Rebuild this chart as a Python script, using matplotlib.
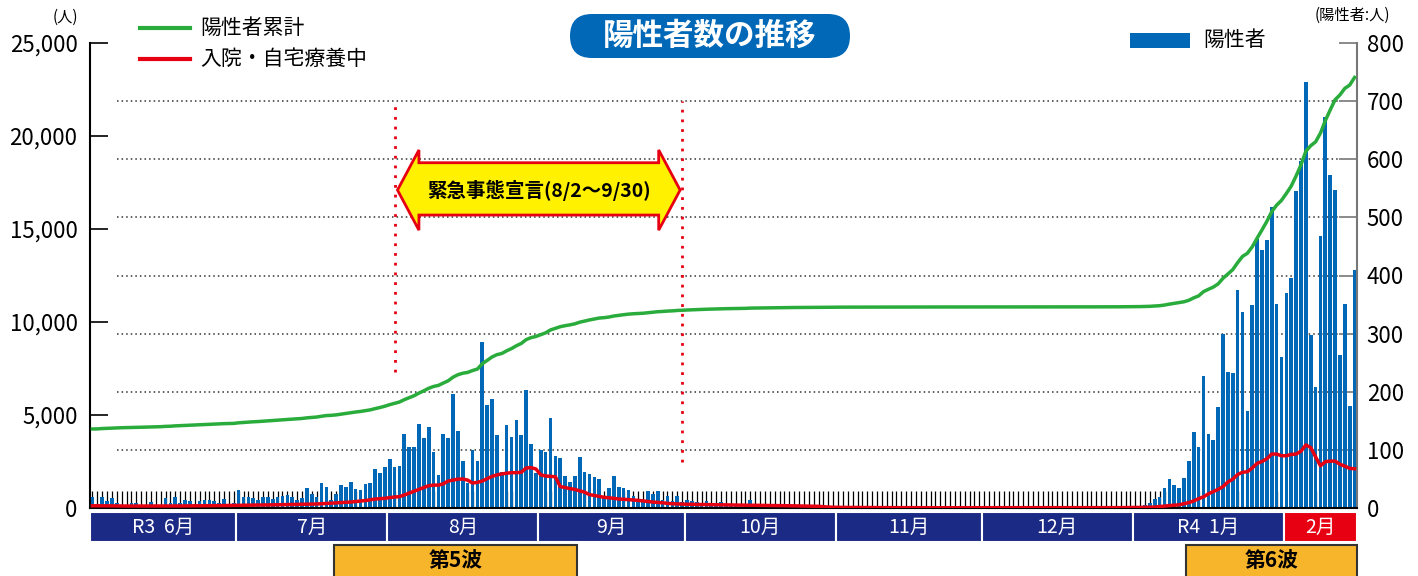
import matplotlib
matplotlib.use("Agg")
import matplotlib.pyplot as plt
import matplotlib.patches as mpatches
from matplotlib.lines import Line2D
import numpy as np

plt.rcParams['font.family'] = ['Noto Sans CJK JP', 'DejaVu Sans']

# daily new positives (right axis), Jun 1 2021 - Feb 15 2022
pos_jun = [19, 4, 19, 12, 17, 9, 6, 6, 9, 8, 6, 4, 10, 6, 6, 17, 9, 19, 9, 14,
           12, 7, 12, 14, 14, 12, 9, 16, 6, 8]
pos_jul = [31, 19, 19, 17, 13, 19, 19, 16, 19, 20, 23, 19, 13, 17, 34, 24, 19, 43, 36, 13,
           24, 40, 36, 45, 33, 31, 41, 43, 67, 60, 70]
pos_aug = [84, 70, 72, 127, 105, 105, 144, 120, 139, 96, 57, 127, 120, 196, 132, 81, 43, 100, 81, 285,
           177, 187, 125, 62, 143, 122, 151, 125, 203, 110, 60]
pos_sep = [99, 97, 155, 89, 86, 55, 45, 55, 88, 62, 58, 53, 50, 20, 34, 55, 36, 34, 31, 20,
           14, 14, 29, 24, 29, 14, 20, 12, 21, 10]
pos_oct = [13, 12, 11, 8, 12, 6, 9, 10, 5, 4, 6, 5, 3, 13, 4, 5, 2, 3, 6, 4,
           3, 2, 3, 1, 2, 4, 1, 2, 1, 3, 2]
pos_nov = [2, 1, 0, 1, 0, 0, 1, 2, 0, 1, 0, 0, 0, 1, 0, 0, 1, 0, 0, 0,
           2, 0, 0, 0, 1, 0, 0, 0, 0, 1]
pos_dec = [0, 0, 1, 0, 0, 0, 0, 1, 0, 0, 0, 0, 0, 1, 0, 0, 1, 0, 0, 0,
           0, 1, 0, 0, 1, 0, 2, 0, 1, 2, 3]
pos_jan = [2, 3, 6, 9, 15, 19, 34, 50, 40, 34, 52, 81, 131, 105, 227, 127, 117, 174, 299, 234,
           232, 375, 337, 167, 349, 463, 444, 461, 518, 351, 260]
pos_feb = [370, 396, 545, 597, 733, 298, 208, 468, 673, 573, 547, 263, 351, 176, 410]

# in hospital / home care (left axis)
care_jun = [120, 120, 120, 115, 115, 110, 110, 105, 105, 100, 100, 100, 100, 100, 100, 105, 105, 110, 110, 115,
            115, 115, 120, 120, 125, 125, 130, 130, 135, 140]
care_jul = [150, 150, 155, 155, 160, 160, 165, 170, 170, 175, 180, 185, 190, 195, 200, 205, 215, 230, 245, 260,
            275, 290, 305, 320, 345, 370, 400, 440, 480, 500, 520]
care_aug = [560, 590, 610, 700, 800, 900, 1000, 1100, 1200, 1230, 1230, 1300, 1450, 1500, 1550, 1560, 1500, 1340, 1380, 1450,
            1580, 1700, 1780, 1830, 1870, 1900, 1900, 1920, 2150, 2170, 2100]
care_sep = [1780, 1720, 1700, 1680, 1150, 1100, 1040, 1000, 920, 850, 720, 670, 620, 575, 550, 520, 480, 470, 450, 430,
            410, 380, 350, 320, 300, 280, 250, 230, 220, 210]
care_oct = [200, 200, 190, 190, 185, 180, 175, 170, 170, 165, 160, 155, 150, 150, 145, 140, 140, 135, 130, 130,
            125, 120, 120, 115, 110, 105, 100, 90, 70, 50, 40]
care_nov = [35, 30, 30, 28, 26, 25, 24, 23, 22, 21, 20, 20, 20, 19, 18, 18, 17, 17, 16, 16,
            15, 15, 15, 14, 14, 14, 13, 13, 13, 12]
care_dec = [12, 12, 12, 12, 11, 11, 11, 11, 10, 10, 10, 10, 10, 10, 10, 10, 10, 11, 11, 12,
            12, 12, 13, 14, 15, 15, 16, 18, 20, 22, 25]
care_jan = [28, 32, 38, 44, 50, 80, 100, 130, 150, 170, 230, 290, 380, 500, 600, 760, 880, 1000, 1150, 1400,
            1550, 1800, 1920, 1950, 2150, 2400, 2500, 2650, 2900, 2900, 2810]
care_feb = [2810, 2880, 2900, 3050, 3390, 3250, 2750, 2270, 2490, 2520, 2520, 2350, 2250, 2130, 2110]

cum_start = 4230  # cumulative positives before Jun 1

months = ['R3  6月', '7月', '8月', '9月', '10月', '11月', '12月', 'R4  1月', '2月']
pos_by_month = [pos_jun, pos_jul, pos_aug, pos_sep, pos_oct, pos_nov, pos_dec, pos_jan, pos_feb]
care_by_month = [care_jun, care_jul, care_aug, care_sep, care_oct, care_nov, care_dec, care_jan, care_feb]

positives = np.concatenate(pos_by_month)
care = np.concatenate(care_by_month)
cumulative = cum_start + np.cumsum(positives)
days = np.arange(len(positives))
month_len = [len(m) for m in pos_by_month]
month_edges = np.concatenate([[0], np.cumsum(month_len)]) - 0.5

waves = [('第5波', 50, 100), ('第6波', 225, 260)]
decl_start, decl_end = 62, 121  # 8/2 and 9/30

BLUE = '#0068b7'
GREEN = '#2aac3c'
RED = '#e60012'
NAVY = '#1b2a84'

W, H = 1418, 576
fig = plt.figure(figsize=(W / 100, H / 100), dpi=100)
ax_b = fig.add_axes([90 / W, 68 / H, 1267 / W, 465 / H])
ax_l = ax_b.twinx()

# bars on right axis
ax_b.bar(days, positives, width=0.75, color=BLUE, zorder=2)
ax_b.set_ylim(0, 800)
ax_b.set_xlim(-0.5, len(days) - 0.5)
ax_b.yaxis.tick_right()
ax_b.set_yticks(range(0, 801, 100))
ax_b.tick_params(axis='y', direction='in', length=13, width=1.2, color='#777777',
                 labelsize=16, pad=7)
ax_b.hlines(range(100, 800, 100), 5, 256, colors='#333333', linestyles=(0, (1, 2)),
            linewidth=1.1, zorder=0.5)
for s in ['top', 'left']:
    ax_b.spines[s].set_visible(False)
ax_b.spines['right'].set_color('#777777')
ax_b.spines['right'].set_linewidth(1.5)
ax_b.spines['bottom'].set_linewidth(1.5)

# day ticks on x
ax_b.set_xticks(days)
ax_b.set_xticklabels([])
ax_b.tick_params(axis='x', direction='in', length=12, width=0.9)
for i, t in enumerate(ax_b.xaxis.get_major_ticks()):
    t.tick1line.set_color('#111111' if i % 2 else '#999999')

# lines on left axis
ax_l.plot(days, cumulative, color=GREEN, lw=2.5, zorder=3)
ax_l.plot(days, care, color=RED, lw=2.5, zorder=3)
ax_l.set_ylim(0, 25000)
ax_l.yaxis.tick_left()
ax_l.set_yticks(range(0, 25001, 5000))
ax_l.set_yticklabels([f'{v:,}' for v in range(0, 25001, 5000)])
ax_l.tick_params(axis='y', direction='in', length=13, width=1.2, labelsize=16, pad=9)
for s in ['top', 'right', 'bottom']:
    ax_l.spines[s].set_visible(False)
ax_l.spines['left'].set_linewidth(1.5)

# state of emergency markers
ax_b.vlines(decl_start, 234, 700, colors=RED, linestyles=(0, (1, 2.5)), linewidth=2)
ax_b.vlines(decl_end, 79, 700, colors=RED, linestyles=(0, (1, 2.5)), linewidth=2)
x0, x1, hl = decl_start + 0.6, decl_end - 0.4, 4.4
ym, yth, ytb, ybb, ybh = 547, 616, 594, 504, 478
arrow = mpatches.Polygon([(x0, ym), (x0 + hl, yth), (x0 + hl, ytb), (x1 - hl, ytb), (x1 - hl, yth),
                          (x1, ym), (x1 - hl, ybh), (x1 - hl, ybb), (x0 + hl, ybb), (x0 + hl, ybh)],
                         closed=True, facecolor='#fff100', edgecolor=RED, lw=2, zorder=4)
ax_b.add_patch(arrow)
ax_b.text((x0 + x1) / 2, ym, '緊急事態宣言(8/2～9/30)', ha='center', va='center',
          fontsize=14, fontweight='bold', zorder=5)

# month bands and wave boxes below the axis
tr = ax_b.get_xaxis_transform()
for k, name in enumerate(months):
    a, b = month_edges[k], month_edges[k + 1]
    fc = RED if name == '2月' else NAVY
    ax_b.add_patch(mpatches.Rectangle((a, -0.073), b - a, 0.064, transform=tr, facecolor=fc,
                                      edgecolor='white', lw=1.5, clip_on=False))
    ax_b.text((a + b) / 2, -0.041, name, transform=tr, ha='center', va='center',
              color='white', fontsize=14, clip_on=False)
for name, a, b in waves:
    ax_b.add_patch(mpatches.Rectangle((a - 0.5, -0.17), b - a, 0.09, transform=tr,
                                      facecolor='#f7b52c', edgecolor='#333333', lw=1.5, clip_on=False))
    ax_b.text((a + b - 1) / 2, -0.113, name, transform=tr, ha='center', va='center',
              fontsize=15, fontweight='bold', clip_on=False)

# title pill
title_box = mpatches.FancyBboxPatch((570 / W, 1 - 58 / H), 280 / W, 44 / H,
                                    boxstyle='round,pad=0,rounding_size=%f' % (22 / W),
                                    mutation_aspect=W / H, transform=fig.transFigure,
                                    facecolor=BLUE, edgecolor='none')
fig.patches.append(title_box)
fig.text(710 / W, 1 - 36 / H, '陽性者数の推移', ha='center', va='center', color='white',
         fontsize=22, fontweight='bold')

# legends
fig.add_artist(Line2D([140 / W, 190 / W], [1 - 28 / H] * 2, color=GREEN, lw=3,
                      transform=fig.transFigure))
fig.add_artist(Line2D([140 / W, 190 / W], [1 - 59 / H] * 2, color=RED, lw=3,
                      transform=fig.transFigure))
fig.text(200 / W, 1 - 28 / H, '陽性者累計', va='center', fontsize=15)
fig.text(200 / W, 1 - 59 / H, '入院・自宅療養中', va='center', fontsize=15)
fig.patches.append(mpatches.Rectangle((1130 / W, 1 - 48 / H), 60 / W, 15 / H,
                                      transform=fig.transFigure, facecolor=BLUE))
fig.text(1203 / W, 1 - 40 / H, '陽性者', va='center', fontsize=15)

fig.text(65 / W, 1 - 17 / H, '(人)', ha='center', va='center', fontsize=11)
fig.text(1352 / W, 1 - 15 / H, '(陽性者:人)', ha='center', va='center', fontsize=11)

fig.savefig('out.png', dpi=100)
